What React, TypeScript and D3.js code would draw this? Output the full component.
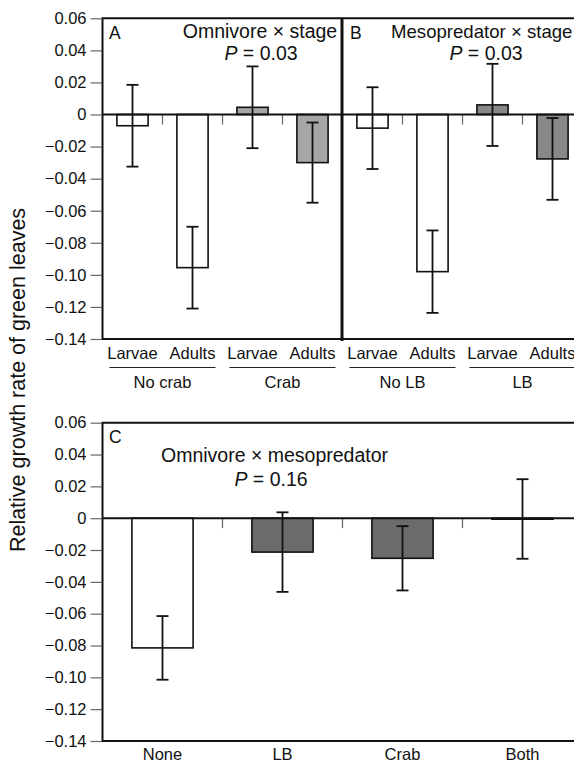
import * as d3 from 'd3';
import React, { useRef, useEffect } from 'react';

const stages = ["Larvae", "Adults", "Larvae", "Adults"];
const groupsA = ["No crab", "Crab"];
const groupsB = ["No LB", "LB"];
const meansA = [-0.007, -0.0955, 0.0045, -0.030];
const errA = [0.0255, 0.0255, 0.0255, 0.025];
const meansB = [-0.0085, -0.098, 0.006, -0.0277];
const errB = [0.0255, 0.0257, 0.0256, 0.0255];
const categoriesC = ["None", "LB", "Crab", "Both"];
const meansC = [-0.0815, -0.0213, -0.0252, -0.0005];
const errC = [0.02, 0.025, 0.0202, 0.025];
const yDomain = [-0.14, 0.06];

const W = 574;
const H = 762;
const font = '"Liberation Sans", Arial, Helvetica, sans-serif';

function App() {
  const ref = useRef(null);

  useEffect(() => {
    const svg = d3.select(ref.current);
    svg.selectAll('*').remove();
    draw(svg);
  });

  const fmt = (d) => (d === 0 ? "0" : d3.format(".2f")(d));

  const yAxis = (g, y, x0) => {
    const ax = g.append("g").attr("transform", `translate(${x0},0)`);
    ax.call(d3.axisLeft(y).ticks(10).tickFormat(fmt).tickSize(11).tickPadding(4))
    ax.select(".domain").remove();
    ax.selectAll(".tick line").attr("stroke", "#666").attr("stroke-width", 1.2);
    ax.selectAll(".tick text")
      .attr("font-family", font)
      .attr("font-size", 16.5)
      .attr("fill", "#111");
  };

  const bars = (g, x, y, means, errs, fill) => {
    const y0 = y(0);
    g.append("g").selectAll("rect")
      .data(means)
      .enter()
      .append("rect")
      .attr("x", (d, i) => x(i))
      .attr("width", x.bandwidth())
      .attr("y", d => Math.min(y(d), y0))
      .attr("height", d => Math.max(Math.abs(y(d) - y0), 1))
      .attr("fill", (d, i) => fill(i))
      .attr("stroke", "#111")
      .attr("stroke-width", 1.6);

    const eb = g.append("g").selectAll("g")
      .data(means)
      .enter()
      .append("g")
      .attr("stroke", "#111")
      .attr("stroke-width", 1.8);
    const cx = (i) => x(i) + x.bandwidth() / 2;
    eb.append("line")
      .attr("x1", (d, i) => cx(i)).attr("x2", (d, i) => cx(i))
      .attr("y1", (d, i) => y(d + errs[i])).attr("y2", (d, i) => y(d - errs[i]));
    eb.append("line")
      .attr("x1", (d, i) => cx(i) - 6).attr("x2", (d, i) => cx(i) + 6)
      .attr("y1", (d, i) => y(d + errs[i])).attr("y2", (d, i) => y(d + errs[i]));
    eb.append("line")
      .attr("x1", (d, i) => cx(i) - 6).attr("x2", (d, i) => cx(i) + 6)
      .attr("y1", (d, i) => y(d - errs[i])).attr("y2", (d, i) => y(d - errs[i]));
  };

  const zeroTicks = (g, x, y, n, len) => {
    g.append("g").selectAll("line")
      .data(d3.range(1, n))
      .enter()
      .append("line")
      .attr("x1", i => x(i) - (x.step() - x.bandwidth()) / 2)
      .attr("x2", i => x(i) - (x.step() - x.bandwidth()) / 2)
      .attr("y1", y(0))
      .attr("y2", y(0) + len)
      .attr("stroke", "#666")
      .attr("stroke-width", 1.2);
  };

  const text = (g, x, yy, str, size, anchor = "start") =>
    g.append("text")
      .attr("x", x).attr("y", yy)
      .attr("font-family", font)
      .attr("font-size", size)
      .attr("text-anchor", anchor)
      .attr("fill", "#111")
      .text(str);

  const pText = (g, x, yy, val, size) => {
    const t = g.append("text")
      .attr("x", x).attr("y", yy)
      .attr("font-family", font)
      .attr("font-size", size)
      .attr("text-anchor", "middle")
      .attr("fill", "#111");
    t.append("tspan").attr("font-style", "italic").text("P");
    t.append("tspan").text(" = " + val);
  };

  const draw = (svg) => {
    svg.append("rect").attr("width", W).attr("height", H).attr("fill", "#fff");
    const g = svg.append("g");

    // top panels
    const left = 102.5, top = 18.3, bottom = 339;
    const yT = d3.scaleLinear().domain(yDomain).range([bottom, top]);
    const xA = d3.scaleBand().domain(d3.range(4)).range([left, left + 240]).paddingInner(0.48).paddingOuter(0.24);
    const xB = d3.scaleBand().domain(d3.range(4)).range([left + 240, left + 480]).paddingInner(0.48).paddingOuter(0.24);

    yAxis(g, yT, left - 1);

    bars(g, xA, yT, meansA, errA, i => (i < 2 ? "#fff" : "#a6a6a6"));
    bars(g, xB, yT, meansB, errB, i => (i < 2 ? "#fff" : "#888"));
    zeroTicks(g, xA, yT, 4, 10);
    zeroTicks(g, xB, yT, 4, 10);

    g.append("line").attr("x1", left).attr("x2", W + 10).attr("y1", yT(0)).attr("y2", yT(0))
      .attr("stroke", "#111").attr("stroke-width", 2);
    // frame
    g.append("path")
      .attr("d", `M${W + 10},${top}H${left}V${bottom}H${W + 10}`)
      .attr("fill", "none").attr("stroke", "#111").attr("stroke-width", 2);
    g.append("line").attr("x1", left + 239.5).attr("x2", left + 239.5).attr("y1", top).attr("y2", bottom + 2)
      .attr("stroke", "#111").attr("stroke-width", 3);

    // category + group labels
    [[xA, groupsA], [xB, groupsB]].forEach(([x, groups]) => {
      stages.forEach((s, i) => text(g, x(i) + x.bandwidth() / 2, 359, s, 16.5, "middle"));
      groups.forEach((gr, j) => {
        const c = (x(j * 2) + x(j * 2 + 1) + x.bandwidth()) / 2;
        g.append("line").attr("x1", c - 53).attr("x2", c + 53).attr("y1", 367.5).attr("y2", 367.5)
          .attr("stroke", "#222").attr("stroke-width", 1.2);
        text(g, c, 388, gr, 16.5, "middle");
      });
    });

    text(g, 109, 39, "A", 17.5);
    text(g, 260, 38, "Omnivore \u00d7 stage", 19.5, "middle");
    pText(g, 261, 59.5, "0.03", 19.5);
    text(g, 350, 39, "B", 17.5);
    text(g, 391, 38, "Mesopredator \u00d7 stage", 18.6);
    pText(g, 486, 59.5, "0.03", 19.5);

    // bottom panel
    const topC = 422.7, bottomC = 741;
    const yC = d3.scaleLinear().domain(yDomain).range([bottomC, topC]);
    const xC = d3.scaleBand().domain(d3.range(4)).range([left, left + 480]).paddingInner(0.49).paddingOuter(0.245);

    yAxis(g, yC, left - 1);
    bars(g, xC, yC, meansC, errC, i => (i < 1 ? "#fff" : "#6b6b6b"));
    zeroTicks(g, xC, yC, 4, 10);
    g.append("line").attr("x1", left).attr("x2", W + 10).attr("y1", yC(0)).attr("y2", yC(0))
      .attr("stroke", "#111").attr("stroke-width", 2);
    g.append("path")
      .attr("d", `M${W + 10},${topC}H${left}V${bottomC}H${W + 10}`)
      .attr("fill", "none").attr("stroke", "#111").attr("stroke-width", 2);

    categoriesC.forEach((c, i) => text(g, xC(i) + xC.bandwidth() / 2, 760, c, 16.5, "middle"));

    text(g, 109, 443, "C", 17.5);
    text(g, 161, 462, "Omnivore \u00d7 mesopredator", 19.5);
    pText(g, 271, 486, "0.16", 19.5);

    // y label
    g.append("text")
      .attr("transform", "translate(24.5,380) rotate(-90)")
      .attr("font-family", font)
      .attr("font-size", 21.5)
      .attr("text-anchor", "middle")
      .attr("fill", "#111")
      .text("Relative growth rate of green leaves");
  };

  return (
    <svg ref={ref} width={W} height={H} style={{ position: "absolute", left: 0, top: 0 }}></svg>
  );
}

export default App;
